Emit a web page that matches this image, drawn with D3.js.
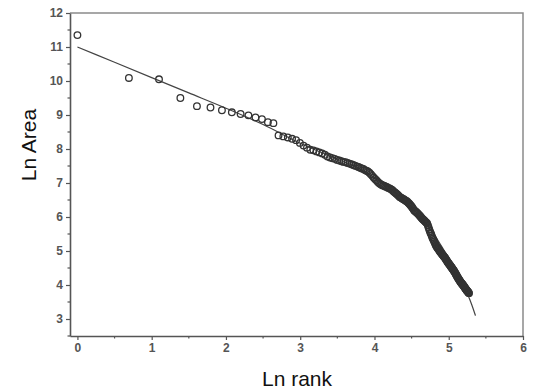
<!DOCTYPE html>
<html>
<head>
<meta charset="utf-8">
<script src="https://cdn.jsdelivr.net/npm/d3@7"></script>
<style>
  body { margin: 0; background: #fff; }
  svg { display: block; font-family: "Liberation Sans", Arial, sans-serif; }
</style>
</head>
<body>
<div id="chart"></div>
<script>
// Ln Area for each rank 1..195
const lnArea = [
  11.35, 10.09, 10.05, 9.50, 9.26, 9.22, 9.14, 9.08, 9.03, 8.99,
  8.93, 8.88, 8.79, 8.76, 8.40, 8.37, 8.34, 8.30, 8.26, 8.18,
  8.10, 8.04, 7.98, 7.96, 7.93, 7.90, 7.87, 7.83, 7.78, 7.75,
  7.73, 7.71, 7.68, 7.66, 7.64, 7.62, 7.61, 7.59, 7.57, 7.55,
  7.53, 7.51, 7.49, 7.47, 7.45, 7.43, 7.41, 7.38, 7.36, 7.34,
  7.30, 7.26, 7.21, 7.16, 7.12, 7.08, 7.04, 7.00, 6.97, 6.95,
  6.93, 6.92, 6.90, 6.89, 6.87, 6.85, 6.84, 6.82, 6.80, 6.77,
  6.74, 6.72, 6.69, 6.67, 6.64, 6.61, 6.58, 6.57, 6.55, 6.53,
  6.52, 6.50, 6.48, 6.47, 6.45, 6.42, 6.40, 6.37, 6.34, 6.31,
  6.27, 6.24, 6.20, 6.18, 6.16, 6.14, 6.12, 6.10, 6.07, 6.05,
  6.02, 6.00, 5.97, 5.95, 5.93, 5.91, 5.89, 5.87, 5.85, 5.83,
  5.81, 5.76, 5.70, 5.64, 5.59, 5.54, 5.50, 5.45, 5.40, 5.36,
  5.32, 5.28, 5.24, 5.20, 5.16, 5.13, 5.10, 5.08, 5.06, 5.04,
  5.01, 4.98, 4.96, 4.94, 4.92, 4.90, 4.88, 4.86, 4.84, 4.82,
  4.80, 4.78, 4.75, 4.73, 4.71, 4.68, 4.66, 4.64, 4.62, 4.60,
  4.58, 4.56, 4.54, 4.52, 4.50, 4.48, 4.46, 4.44, 4.42, 4.40,
  4.38, 4.35, 4.33, 4.30, 4.28, 4.26, 4.23, 4.21, 4.19, 4.17,
  4.15, 4.13, 4.11, 4.09, 4.07, 4.06, 4.04, 4.03, 4.01, 4.00,
  3.98, 3.96, 3.95, 3.93, 3.91, 3.89, 3.88, 3.86, 3.84, 3.83,
  3.82, 3.80, 3.79, 3.77, 3.76
];

// fitted curve
const fitX = [0, 0.5, 1, 1.5, 2, 2.5, 3, 3.5, 3.8, 4, 4.2, 4.4, 4.6, 4.8, 4.9, 5.0, 5.1, 5.2, 5.26, 5.31, 5.36];
const fitY = [11.0, 10.55, 10.1, 9.65, 9.2, 8.72, 8.17, 7.7, 7.42, 7.15, 6.85, 6.5, 6.05, 5.5, 5.15, 4.78, 4.4, 3.98, 3.7, 3.42, 3.1];

const xTicks = [0, 1, 2, 3, 4, 5, 6];
const yTicks = [3, 4, 5, 6, 7, 8, 9, 10, 11, 12];

const width = 534, height = 390;
const plotL = 70, plotR = 523, plotT = 13, plotB = 336;

const svg = d3.select('#chart').append('svg')
    .attr('width', width)
    .attr('height', height);

const x = d3.scaleLinear().domain([-0.1, 6]).range([plotL, plotR]);
const y = d3.scaleLinear().domain([2.5, 12]).range([plotB, plotT]);

const points = lnArea.map((v, i) => ({ r: i + 1, x: Math.log(i + 1), y: v }));
const fit = fitX.map((v, i) => ({ x: v, y: fitY[i] }));

// frame top / right
svg.append('path')
    .attr('d', `M${plotL},${plotT}H${plotR}V${plotB}`)
    .attr('fill', 'none')
    .attr('stroke', '#8a8a8a')
    .attr('stroke-width', 1.5);

// minor ticks
const yMinor = d3.range(2.5, 12, 1);
const xMinor = d3.range(0.5, 6, 1);

svg.append('g').selectAll('line')
    .data(yMinor)
    .join('line')
    .attr('x1', plotL - 2.5).attr('x2', plotL)
    .attr('y1', d => y(d)).attr('y2', d => y(d))
    .attr('stroke', '#555').attr('stroke-width', 1.2);

svg.append('g').selectAll('line')
    .data(xMinor)
    .join('line')
    .attr('x1', d => x(d)).attr('x2', d => x(d))
    .attr('y1', plotB).attr('y2', plotB + 2.5)
    .attr('stroke', '#555').attr('stroke-width', 1.2);

// axes
const yAxis = svg.append('g')
    .attr('transform', `translate(${plotL},0)`)
    .call(d3.axisLeft(y).tickValues(yTicks).tickFormat(d3.format('d'))
        .tickSize(4).tickSizeOuter(0).tickPadding(3));

const xAxis = svg.append('g')
    .attr('transform', `translate(0,${plotB})`)
    .call(d3.axisBottom(x).tickValues(xTicks).tickFormat(d3.format('d'))
        .tickSize(4).tickSizeOuter(0).tickPadding(3));

[yAxis, xAxis].forEach(a => {
    a.select('.domain').attr('stroke', '#555').attr('stroke-width', 1.6);
    a.selectAll('.tick line').attr('stroke', '#555').attr('stroke-width', 1.2);
    a.selectAll('.tick text')
        .attr('fill', '#555')
        .style('font-size', '12px')
        .style('font-weight', 'bold')
        .style('font-family', '"Liberation Sans Narrow", "Liberation Sans", Arial, sans-serif');
});

// fitted curve
const line = d3.line()
    .x(d => x(d.x))
    .y(d => y(d.y))
    .curve(d3.curveMonotoneX);

svg.append('path')
    .datum(fit)
    .attr('d', line)
    .attr('fill', 'none')
    .attr('stroke', '#444')
    .attr('stroke-width', 1.2);

// data points
svg.append('g').selectAll('circle')
    .data(points)
    .join('circle')
    .attr('cx', d => x(d.x))
    .attr('cy', d => y(d.y))
    .attr('r', 3.3)
    .attr('fill', 'none')
    .attr('stroke', '#333')
    .attr('stroke-width', 1.3);

// axis titles
svg.append('text')
    .attr('transform', `translate(36,145) rotate(-90)`)
    .attr('text-anchor', 'middle')
    .style('font-size', '21px')
    .attr('fill', '#111')
    .text('Ln Area');

svg.append('text')
    .attr('x', 297)
    .attr('y', 386)
    .attr('text-anchor', 'middle')
    .style('font-size', '21px')
    .attr('fill', '#111')
    .text('Ln rank');
</script>
</body>
</html>
